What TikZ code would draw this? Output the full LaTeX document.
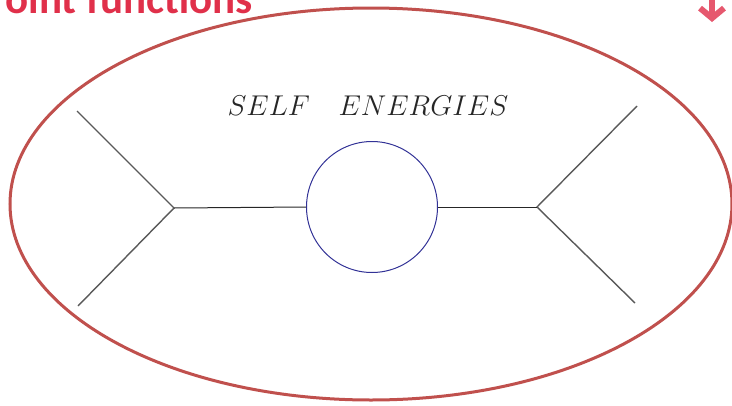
\documentclass[tikz,border=0pt]{standalone}
\usepackage{fontspec}
\newfontfamily\titlefont{Carlito}
\usetikzlibrary{arrows.meta,shapes.geometric}
\definecolor{ovalred}{RGB}{192,80,77}
\definecolor{titlered}{RGB}{224,48,74}
\definecolor{arrowpink}{RGB}{230,88,110}
\definecolor{loopblue}{RGB}{50,50,150}
\begin{document}
\begin{tikzpicture}[
                x=1pt, y=-1pt,
                oval/.style={
                    draw=ovalred,
                    line width=3pt
                },
                leg/.style={
                    draw=black!65,
                    line width=1.4pt
                },
                prop/.style={
                    draw=black!85,
                    line width=1pt
                },
                selfloop/.style={
                    draw=loopblue,
                    circle,
                    line width=1pt,
                    minimum size=131pt,
                    inner sep=0pt
                },
                vertex/.style={
                    circle,
                    inner sep=0pt,
                    minimum size=0pt
                }
            ]
                \useasboundingbox (0,0) rectangle (732,405);
                \clip (0,0) rectangle (732,405);

                \node[titlered, anchor=base east, inner sep=0pt, font=\titlefont\bfseries\fontsize{43}{48}\selectfont] (title) at (253,13) {oint functions};
                \coordinate (arrowtop) at (712,-4);
                \coordinate (arrowtip) at (712,22);
                \draw[arrowpink, line width=6pt, -{Straight Barb[length=10pt, width=24pt]}] (arrowtop) -- (arrowtip);

                \node[oval, ellipse, minimum width=722pt, minimum height=392pt, inner sep=0pt] (blob) at (371,204) {};

                \node[text=black!85, scale=1.15, font=\fontsize{24.88}{30}\selectfont] (label) at (368,106) {$SELF\quad ENERGIES$};

                \node[vertex] (vl) at (174,208) {};
                \node[vertex] (vr) at (537,207) {};
                \node[selfloop] (loop) at (372,207) {};
                \coordinate (inup) at (77,111);
                \coordinate (indown) at (78,306);
                \coordinate (outup) at (637,106);
                \coordinate (outdown) at (635,303);

                \draw[leg] (inup) -- (vl.center) -- (indown);
                \draw[leg] (outup) -- (vr.center) -- (outdown);
                \draw[prop] (vl.center) -- (loop.west);
                \draw[prop] (loop.east) -- (vr.center);
        \end{tikzpicture}
\end{document}
